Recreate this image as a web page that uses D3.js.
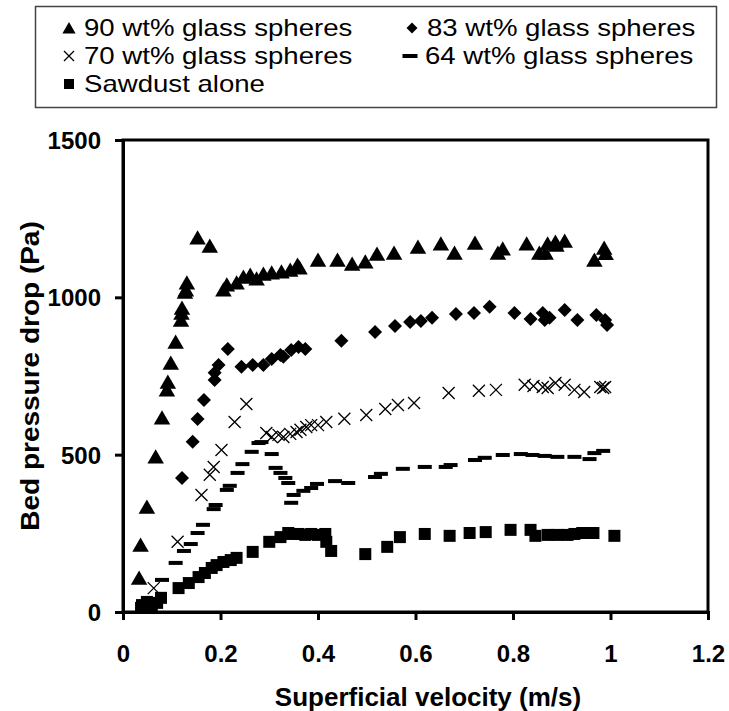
<!DOCTYPE html>
<html>
<head>
<meta charset="utf-8">
<script src="https://cdn.jsdelivr.net/npm/d3@7"></script>
<style>
  body { margin: 0; background: #fff; }
  svg { display: block; font-family: "Liberation Sans", Arial, sans-serif; }
</style>
</head>
<body>
<div id="chart"></div>
<script>
// Bed pressure drop vs superficial velocity, sawdust / glass sphere mixtures

const seriesNames = ["90 wt% glass spheres", "83 wt% glass spheres", "70 wt% glass spheres", "64 wt% glass spheres", "Sawdust alone"];

const x90 = [0.033,0.036,0.049,0.067,0.080,0.090,0.092,0.098,0.108,0.119,0.120,0.121,0.127,0.129,0.131,0.153,0.178,0.206,0.213,0.233,0.247,0.261,0.274,0.288,0.305,0.325,0.343,0.358,0.362,0.40,0.44,0.47,0.497,0.521,0.556,0.605,0.652,0.68,0.722,0.769,0.779,0.828,0.854,0.867,0.871,0.887,0.889,0.906,0.967,0.987,0.99];
const y90 = [108,213,334,493,617,706,731,791,858,928,950,966,1017,1024,1046,1189,1163,1024,1040,1046,1065,1071,1059,1074,1078,1081,1087,1103,1094,1119,1119,1106,1113,1138,1141,1160,1170,1141,1173,1141,1154,1170,1141,1141,1170,1176,1166,1179,1119,1157,1140];

const x83 = [0.121,0.143,0.153,0.166,0.188,0.188,0.196,0.215,0.243,0.266,0.288,0.305,0.323,0.329,0.345,0.36,0.374,0.448,0.517,0.558,0.589,0.611,0.634,0.683,0.72,0.752,0.803,0.836,0.861,0.865,0.875,0.906,0.932,0.971,0.989,0.993];
const y83 = [426,541,613,674,737,760,785,836,779,785,785,804,817,811,833,842,836,862,890,909,922,925,935,947,950,970,950,931,950,928,935,960,928,944,928,912];

const x70 = [0.063,0.112,0.161,0.178,0.186,0.202,0.229,0.253,0.294,0.305,0.319,0.329,0.343,0.356,0.364,0.376,0.386,0.4,0.417,0.454,0.499,0.538,0.564,0.597,0.668,0.73,0.765,0.824,0.842,0.861,0.871,0.887,0.906,0.926,0.946,0.979,0.985,0.989];
const y70 = [76,223,372,436,461,515,604,661,569,556,563,556,566,572,579,588,594,594,604,614,626,645,658,664,696,703,706,722,718,715,712,728,722,706,699,715,712,715];

const x64 = [0.080,0.108,0.125,0.139,0.153,0.164,0.186,0.19,0.213,0.219,0.235,0.245,0.264,0.278,0.284,0.305,0.313,0.323,0.333,0.339,0.35,0.345,0.37,0.386,0.398,0.435,0.462,0.517,0.529,0.574,0.619,0.662,0.672,0.722,0.742,0.779,0.816,0.84,0.865,0.891,0.926,0.957,0.967,0.985];
const y64 = [102,156,194,216,251,277,327,340,388,401,442,470,509,537,540,502,458,442,426,410,372,347,385,394,407,416,410,429,439,455,461,461,467,483,490,499,502,499,496,493,493,486,505,512];

const xSaw = [0.037,0.039,0.049,0.059,0.07,0.078,0.114,0.135,0.155,0.168,0.182,0.192,0.206,0.221,0.233,0.266,0.3,0.323,0.339,0.345,0.36,0.374,0.386,0.4,0.415,0.417,0.427,0.497,0.542,0.568,0.619,0.67,0.711,0.744,0.795,0.836,0.846,0.871,0.891,0.912,0.926,0.942,0.965,1.008];
const ySaw = [13,22,32,22,29,45,76,92,111,124,140,149,159,165,172,191,223,238,251,248,248,245,248,245,248,223,194,184,207,238,248,242,251,254,261,261,242,245,245,245,248,251,251,242];

const xTicks = [0, 0.2, 0.4, 0.6, 0.8, 1, 1.2];
const yTicks = [0, 500, 1000, 1500];

const width = 729, height = 711;
const margin = {top: 140, right: 21, bottom: 99, left: 123};

const svg = d3.select("#chart").append("svg")
    .attr("width", width)
    .attr("height", height);

const x = d3.scaleLinear().domain([0, 1.2]).range([margin.left, width - margin.right]);
const y = d3.scaleLinear().domain([0, 1500]).range([height - margin.bottom, margin.top]);

const zip = (xs, ys) => xs.map((v, i) => [v, ys[i]]);

// marker shapes, drawn centred on 0,0
const shapes = {
  tri: s => `M0,${-s*0.5}L${s*0.55},${s*0.45}L${-s*0.55},${s*0.45}Z`,
  dia: s => `M0,${-s/2}L${s/2},0L0,${s/2}L${-s/2},0Z`,
  sq: s => `M${-s/2},${-s/2}h${s}v${s}h${-s}Z`
};

function drawMarker(g, kind, s) {
  if (kind === "cross") {
    g.append("path")
      .attr("d", `M${-s/2},${-s/2}L${s/2},${s/2}M${s/2},${-s/2}L${-s/2},${s/2}`)
      .attr("stroke", "#000").attr("stroke-width", 1.3).attr("fill", "none");
  } else if (kind === "dash") {
    g.append("rect").attr("x", -s/2).attr("y", -2).attr("width", s).attr("height", 4).attr("fill", "#000");
  } else {
    g.append("path").attr("d", shapes[kind](s)).attr("fill", "#000");
  }
}

// frame
svg.append("rect")
    .attr("x", x(0)).attr("y", y(1500))
    .attr("width", x(1.2) - x(0)).attr("height", y(0) - y(1500))
    .attr("fill", "none").attr("stroke", "#000").attr("stroke-width", 3);

// axes
const xAxis = svg.append("g")
    .attr("transform", `translate(0,${y(0)})`)
    .call(d3.axisBottom(x).tickValues(xTicks).tickSize(8).tickFormat(d3.format("")));
const yAxis = svg.append("g")
    .attr("transform", `translate(${x(0)},0)`)
    .call(d3.axisLeft(y).tickValues(yTicks).tickSize(8).tickFormat(d3.format("")));

[xAxis, yAxis].forEach(a => {
  a.select(".domain").attr("stroke-width", 3);
  a.selectAll(".tick line").attr("stroke-width", 3);
  a.selectAll("text")
    .attr("font-family", "Liberation Sans, Arial, sans-serif")
    .attr("font-size", 24).attr("font-weight", "bold").attr("fill", "#000");
});
xAxis.selectAll("text").attr("dy", null).attr("y", 50);
yAxis.selectAll("text").attr("x", -22).attr("dy", "0.35em");

// series
const series = [
  {kind: "tri", size: 15, data: zip(x90, y90)},
  {kind: "dia", size: 14, data: zip(x83, y83)},
  {kind: "cross", size: 12, data: zip(x70, y70)},
  {kind: "dash", size: 14, data: zip(x64, y64)},
  {kind: "sq", size: 12, data: zip(xSaw, ySaw)}
];

series.forEach(s => {
  svg.append("g").selectAll("g")
    .data(s.data)
    .join("g")
    .attr("transform", d => `translate(${x(d[0])},${y(d[1])})`)
    .each(function () { drawMarker(d3.select(this), s.kind, s.size); });
});

// axis titles
svg.append("text")
    .attr("x", 428).attr("y", 706)
    .attr("text-anchor", "middle")
    .attr("font-size", 26).attr("font-weight", "bold")
    .text("Superficial velocity (m/s)");

svg.append("text")
    .attr("transform", `translate(39,${(y(0) + y(1500)) / 2}) rotate(-90) scale(1.12,1)`)
    .attr("text-anchor", "middle")
    .attr("font-size", 25).attr("font-weight", "bold")
    .text("Bed pressure drop (Pa)");

// legend
const legend = svg.append("g");
legend.append("rect")
    .attr("x", 35.5).attr("y", 6.5).attr("width", 681).attr("height", 101)
    .attr("fill", "#fff").attr("stroke", "#444").attr("stroke-width", 1.5);

const legendPos = [[69, 36], [412, 36], [69, 64], [410, 64], [69, 92]];
const legendKinds = ["tri", "dia", "cross", "dash", "sq"];
const legendSizes = [12, 11, 10, 15, 10];

seriesNames.forEach((name, i) => {
  const [lx, ly] = legendPos[i];
  const m = legend.append("g").attr("transform", `translate(${lx},${ly - 8})`);
  drawMarker(m, legendKinds[i], legendSizes[i]);
  legend.append("text")
    .attr("transform", `translate(${lx + 15},${ly}) scale(1.2,1)`)
    .attr("font-size", 23)
    .text(name);
});
</script>
</body>
</html>
